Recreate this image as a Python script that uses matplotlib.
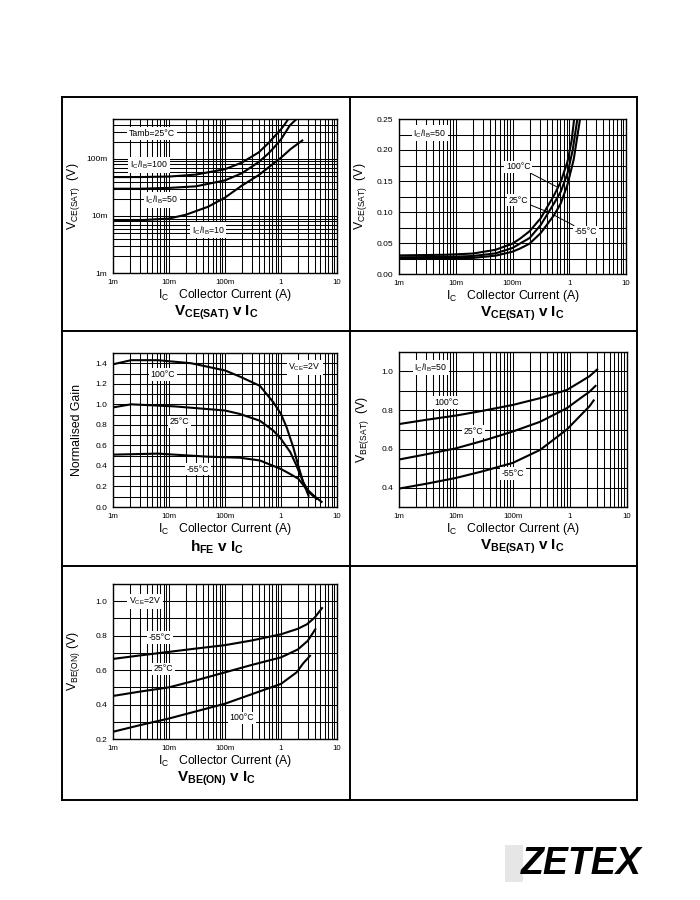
import matplotlib
matplotlib.use("Agg")
import matplotlib.pyplot as plt
from matplotlib.lines import Line2D
from matplotlib.patches import Rectangle
from matplotlib.ticker import LogLocator, MultipleLocator, NullFormatter

plt.rcParams['font.family'] = ['Liberation Sans', 'DejaVu Sans']
plt.rcParams['mathtext.fontset'] = 'custom'
plt.rcParams['mathtext.rm'] = 'Liberation Sans'
plt.rcParams['mathtext.it'] = 'Liberation Sans'
plt.rcParams['mathtext.bf'] = 'Liberation Sans:bold'

# x axis shared by every panel (collector current, A)
x_ticks = [0.001, 0.01, 0.1, 1, 10]
x_tick_labels = ["1m", "10m", "100m", "1", "10"]

# VCE(SAT) v IC, Tamb = 25C
vce_ic_100 = [0.001, 0.003, 0.01, 0.03, 0.1, 0.2, 0.4, 0.6, 0.8, 1.0, 1.2, 1.35]
vce_v_100 = [0.048, 0.048, 0.049, 0.053, 0.066, 0.086, 0.13, 0.19, 0.26, 0.33, 0.42, 0.50]
vce_ic_50 = [0.001, 0.003, 0.01, 0.03, 0.1, 0.2, 0.4, 0.6, 0.8, 1.0, 1.45, 1.9]
vce_v_50 = [0.030, 0.030, 0.031, 0.033, 0.042, 0.056, 0.088, 0.125, 0.17, 0.22, 0.39, 0.50]
vce_ic_10 = [0.001, 0.003, 0.01, 0.02, 0.05, 0.1, 0.2, 0.4, 0.7, 1.0, 1.5, 2.4]
vce_v_10 = [0.0082, 0.0084, 0.009, 0.0105, 0.0145, 0.021, 0.034, 0.052, 0.08, 0.105, 0.15, 0.21]

# VCE(SAT) v IC, IC/IB = 50, three temperatures
vct_ic_100 = [0.001, 0.0065, 0.02, 0.05, 0.1, 0.138, 0.2, 0.314, 0.54, 0.71, 0.93, 1.1, 1.22]
vct_v_100 = [0.030, 0.031, 0.033, 0.039, 0.049, 0.0575, 0.069, 0.090, 0.127, 0.149, 0.181, 0.215, 0.25]
vct_ic_25 = [0.001, 0.0065, 0.02, 0.05, 0.1, 0.138, 0.2, 0.314, 0.54, 0.71, 0.93, 1.15, 1.39]
vct_v_25 = [0.027, 0.0275, 0.029, 0.0333, 0.042, 0.0495, 0.058, 0.079, 0.114, 0.133, 0.162, 0.20, 0.25]
vct_ic_m55 = [0.001, 0.0065, 0.02, 0.05, 0.1, 0.138, 0.2, 0.314, 0.54, 0.71, 0.93, 1.2, 1.55]
vct_v_m55 = [0.025, 0.0255, 0.026, 0.0295, 0.036, 0.0414, 0.049, 0.066, 0.095, 0.114, 0.144, 0.185, 0.25]

# hFE v IC (normalised gain), VCE = 2V
hfe_ic_100 = [0.001, 0.0021, 0.0063, 0.025, 0.1, 0.185, 0.42, 0.73, 1.0, 1.26, 1.66, 2.04, 2.5, 3.1]
hfe_g_100 = [1.39, 1.43, 1.43, 1.40, 1.33, 1.27, 1.18, 1.02, 0.906, 0.776, 0.58, 0.40, 0.24, 0.11]
hfe_ic_25 = [0.001, 0.0021, 0.0126, 0.1, 0.185, 0.42, 0.73, 1.0, 1.47, 1.9, 2.5, 3.2, 4.3]
hfe_g_25 = [0.97, 1.00, 0.98, 0.94, 0.906, 0.84, 0.744, 0.663, 0.533, 0.40, 0.24, 0.14, 0.08]
hfe_ic_m55 = [0.001, 0.0063, 0.05, 0.185, 0.42, 0.73, 1.0, 1.47, 2.04, 2.7, 3.8, 5.3]
hfe_g_m55 = [0.51, 0.52, 0.49, 0.48, 0.453, 0.40, 0.37, 0.32, 0.275, 0.19, 0.113, 0.05]

# VBE(SAT) v IC, IC/IB = 50
vbs_ic_100 = [0.001, 0.003, 0.01, 0.03, 0.1, 0.3, 0.88, 1.5, 2.2, 3.0]
vbs_v_100 = [0.728, 0.75, 0.772, 0.797, 0.827, 0.862, 0.904, 0.945, 0.975, 1.01]
vbs_ic_25 = [0.001, 0.003, 0.01, 0.03, 0.1, 0.3, 0.88, 1.5, 2.2, 2.8]
vbs_v_25 = [0.545, 0.572, 0.603, 0.642, 0.69, 0.74, 0.81, 0.86, 0.895, 0.925]
vbs_ic_m55 = [0.001, 0.003, 0.01, 0.03, 0.1, 0.3, 0.88, 1.5, 2.2, 2.6]
vbs_v_m55 = [0.395, 0.42, 0.45, 0.485, 0.528, 0.595, 0.70, 0.77, 0.82, 0.85]

# VBE(ON) v IC, VCE = 2V
vbo_ic_m55 = [0.001, 0.003, 0.01, 0.03, 0.1, 0.3, 1.0, 2.0, 2.9, 4.0, 5.4]
vbo_v_m55 = [0.665, 0.685, 0.706, 0.725, 0.745, 0.772, 0.808, 0.84, 0.866, 0.905, 0.96]
vbo_ic_25 = [0.001, 0.003, 0.01, 0.03, 0.1, 0.3, 1.0, 2.0, 3.0, 4.1]
vbo_v_25 = [0.45, 0.475, 0.50, 0.54, 0.587, 0.63, 0.674, 0.72, 0.77, 0.837]
vbo_ic_100 = [0.001, 0.003, 0.01, 0.03, 0.1, 0.3, 1.0, 1.9, 2.5, 3.3]
vbo_v_100 = [0.242, 0.28, 0.319, 0.36, 0.405, 0.46, 0.52, 0.587, 0.64, 0.683]

W, H = 700, 900
BOX = dict(fc="white", ec="none", pad=1.2)
LBL = 6.3


def px(v):
    return v * 72 / 100


def frame(l, t, r, b):
    return [l / W, 1 - b / H, (r - l) / W, (b - t) / H]


def make_axes(fig, rect, ylabel, title, ylab_off, title_dx):
    ax = fig.add_axes(rect)
    ax.set_xscale("log")
    ax.set_xlim(1e-3, 10)
    ax.set_xticks(x_ticks, x_tick_labels)
    ax.xaxis.set_minor_locator(LogLocator(base=10, subs=range(2, 10), numticks=50))
    ax.xaxis.set_minor_formatter(NullFormatter())
    ax.grid(which="both", color="black", lw=0.75)
    ax.set_axisbelow(True)
    ax.tick_params(which="both", length=0, pad=4)
    ax.tick_params(axis="x", labelsize=5.6)
    ax.tick_params(axis="y", labelsize=6)
    for s in ax.spines.values():
        s.set_linewidth(1.0)
    ax.annotate(ylabel, xy=(0, 0.5), xycoords="axes fraction",
                xytext=(-px(ylab_off), 0), textcoords="offset points",
                rotation=90, ha="center", va="center", fontsize=8.8)
    ax.annotate(r"$\mathregular{I_C}$   Collector Current (A)", xy=(0.5, 0),
                xycoords="axes fraction", xytext=(0, -px(22)),
                textcoords="offset points", ha="center", va="center", fontsize=8.8)
    ax.annotate(title, xy=(0.5, 0), xycoords="axes fraction",
                xytext=(px(title_dx), -px(40)), textcoords="offset points",
                ha="center", va="center", fontsize=11)
    return ax


def main():
    fig = plt.figure(figsize=(7, 9), dpi=100)

    # page frame
    lines = [((62, 637), (97, 97)), ((62, 637), (800, 800)), ((62, 62), (97, 800)),
             ((637, 637), (97, 800)), ((350, 350), (97, 800)),
             ((62, 637), (331, 331)), ((62, 637), (566, 566))]
    for xs, ys in lines:
        fig.add_artist(Line2D([x / W for x in xs], [1 - y / H for y in ys],
                              transform=fig.transFigure, color="black", lw=1.4))

    # --- panel 1 ---
    ax = make_axes(fig, frame(113, 119, 337, 273), r"$\mathregular{V_{CE(SAT)}}$  (V)",
                   r"$\mathbf{V_{CE(SAT)}\ v\ I_C}$", 40, -9)
    ax.set_yscale("log")
    ax.set_ylim(1e-3, 0.5)
    ax.set_yticks([0.001, 0.01, 0.1], ["1m", "10m", "100m"])
    ax.yaxis.set_minor_locator(LogLocator(base=10, subs=range(2, 10), numticks=50))
    ax.yaxis.set_minor_formatter(NullFormatter())
    ax.grid(which="both", color="black", lw=0.75)
    ax.plot(vce_ic_100, vce_v_100, color="black", lw=1.5)
    ax.plot(vce_ic_50, vce_v_50, color="black", lw=1.5)
    ax.plot(vce_ic_10, vce_v_10, color="black", lw=1.5)
    ax.text(0.005, 0.28, "Tamb=25°C", fontsize=LBL, ha="center", va="center", bbox=BOX)
    ax.text(0.0044, 0.078, r"$\mathregular{I_C/I_B}$=100", fontsize=LBL, ha="center", va="center", bbox=BOX)
    ax.text(0.0075, 0.019, r"$\mathregular{I_C/I_B}$=50", fontsize=LBL, ha="center", va="center", bbox=BOX)
    ax.text(0.05, 0.0056, r"$\mathregular{I_C/I_B}$=10", fontsize=LBL, ha="center", va="center", bbox=BOX)

    # --- panel 2 ---
    ax = make_axes(fig, frame(399, 119, 626, 274), r"$\mathregular{V_{CE(SAT)}}$  (V)",
                   r"$\mathbf{V_{CE(SAT)}\ v\ I_C}$", 38, 10)
    ax.set_ylim(0, 0.25)
    ax.set_yticks([0, 0.05, 0.10, 0.15, 0.20, 0.25],
                  ["0.00", "0.05", "0.10", "0.15", "0.20", "0.25"])
    ax.yaxis.set_minor_locator(MultipleLocator(0.025))
    ax.plot(vct_ic_100, vct_v_100, color="black", lw=1.5)
    ax.plot(vct_ic_25, vct_v_25, color="black", lw=1.5)
    ax.plot(vct_ic_m55, vct_v_m55, color="black", lw=1.5)
    ax.text(0.0035, 0.227, r"$\mathregular{I_C/I_B}$=50", fontsize=LBL, ha="center", va="center", bbox=BOX)
    arrow = dict(arrowstyle="-", color="black", lw=0.7, shrinkA=0, shrinkB=0)
    ax.annotate("100°C", xy=(0.62, 0.140), xytext=(0.126, 0.173), fontsize=LBL,
                ha="center", va="center", bbox=BOX, arrowprops=arrow)
    ax.annotate("25°C", xy=(0.42, 0.100), xytext=(0.129, 0.119), fontsize=LBL,
                ha="center", va="center", bbox=BOX, arrowprops=arrow)
    ax.annotate("-55°C", xy=(0.54, 0.095), xytext=(1.95, 0.068), fontsize=LBL,
                ha="center", va="center", bbox=BOX, arrowprops=arrow)

    # --- panel 3 ---
    ax = make_axes(fig, frame(113, 353, 337, 507), "Normalised Gain",
                   r"$\mathbf{h_{FE}\ v\ I_C}$", 36, -8)
    ax.set_ylim(0, 1.5)
    ax.set_yticks([0, 0.2, 0.4, 0.6, 0.8, 1.0, 1.2, 1.4],
                  ["0.0", "0.2", "0.4", "0.6", "0.8", "1.0", "1.2", "1.4"])
    ax.yaxis.set_minor_locator(MultipleLocator(0.1))
    ax.plot(hfe_ic_100, hfe_g_100, color="black", lw=1.5)
    ax.plot(hfe_ic_25, hfe_g_25, color="black", lw=1.5)
    ax.plot(hfe_ic_m55, hfe_g_m55, color="black", lw=1.5)
    ax.text(0.0078, 1.29, "100°C", fontsize=LBL, ha="center", va="center", bbox=BOX)
    ax.text(0.0155, 0.83, "25°C", fontsize=LBL, ha="center", va="center", bbox=BOX)
    ax.text(0.033, 0.37, "-55°C", fontsize=LBL, ha="center", va="center", bbox=BOX)
    ax.text(2.65, 1.36, r"$\mathregular{V_{CE}}$=2V", fontsize=LBL, ha="center", va="center", bbox=BOX)

    # --- panel 4 ---
    ax = make_axes(fig, frame(399, 352, 627, 507), r"$\mathregular{V_{BE(SAT)}}$  (V)",
                   r"$\mathbf{V_{BE(SAT)}\ v\ I_C}$", 36, 9)
    ax.set_ylim(0.3, 1.1)
    ax.set_yticks([0.4, 0.6, 0.8, 1.0], ["0.4", "0.6", "0.8", "1.0"])
    ax.yaxis.set_minor_locator(MultipleLocator(0.1))
    ax.plot(vbs_ic_100, vbs_v_100, color="black", lw=1.5)
    ax.plot(vbs_ic_25, vbs_v_25, color="black", lw=1.5)
    ax.plot(vbs_ic_m55, vbs_v_m55, color="black", lw=1.5)
    ax.text(0.0036, 1.02, r"$\mathregular{I_C/I_B}$=50", fontsize=LBL, ha="center", va="center", bbox=BOX)
    ax.text(0.0068, 0.84, "100°C", fontsize=LBL, ha="center", va="center", bbox=BOX)
    ax.text(0.02, 0.69, "25°C", fontsize=LBL, ha="center", va="center", bbox=BOX)
    ax.text(0.1, 0.473, "-55°C", fontsize=LBL, ha="center", va="center", bbox=BOX)

    # --- panel 5 ---
    ax = make_axes(fig, frame(113, 584, 337, 739), r"$\mathregular{V_{BE(ON)}}$ (V)",
                   r"$\mathbf{V_{BE(ON)}\ v\ I_C}$", 40, -8)
    ax.set_ylim(0.2, 1.1)
    ax.set_yticks([0.2, 0.4, 0.6, 0.8, 1.0], ["0.2", "0.4", "0.6", "0.8", "1.0"])
    ax.yaxis.set_minor_locator(MultipleLocator(0.1))
    ax.plot(vbo_ic_m55, vbo_v_m55, color="black", lw=1.5)
    ax.plot(vbo_ic_25, vbo_v_25, color="black", lw=1.5)
    ax.plot(vbo_ic_100, vbo_v_100, color="black", lw=1.5)
    ax.text(0.0037, 1.0, r"$\mathregular{V_{CE}}$=2V", fontsize=LBL, ha="center", va="center", bbox=BOX)
    ax.text(0.0069, 0.79, "-55°C", fontsize=LBL, ha="center", va="center", bbox=BOX)
    ax.text(0.0079, 0.607, "25°C", fontsize=LBL, ha="center", va="center", bbox=BOX)
    ax.text(0.2, 0.323, "100°C", fontsize=LBL, ha="center", va="center", bbox=BOX)

    # logo
    fig.add_artist(Rectangle((505 / W, 1 - 882 / H), 18 / W, 37 / H,
                             transform=fig.transFigure, fc="#e6e6e6", ec="none"))
    fig.text(581 / W, 1 - 864 / H, "ZETEX", fontsize=27, fontweight="bold",
             fontstyle="italic", ha="center", va="center")

    fig.savefig("out.png", dpi=100)
    plt.close(fig)


if __name__ == "__main__":
    main()
